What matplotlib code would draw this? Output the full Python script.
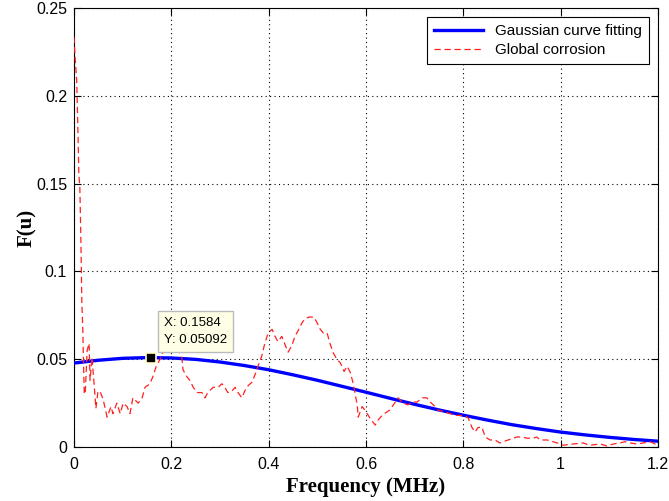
import numpy as np
import matplotlib
matplotlib.use("Agg")
import matplotlib.pyplot as plt

# Gaussian curve fitting
fit_x = [0.00, 0.05, 0.10, 0.15, 0.20, 0.25, 0.30, 0.35, 0.40, 0.45, 0.50, 0.55,
         0.60, 0.65, 0.70, 0.75, 0.80, 0.85, 0.90, 0.95, 1.00, 1.05, 1.10, 1.15, 1.20]
fit_y = [0.0478, 0.0494, 0.0505, 0.0509, 0.0507, 0.0499, 0.0484, 0.0464, 0.0440,
         0.0411, 0.0380, 0.0346, 0.0312, 0.0277, 0.0243, 0.0211, 0.0181, 0.0153,
         0.0127, 0.0105, 0.0085, 0.0069, 0.0055, 0.0043, 0.0033]

# Global corrosion spectrum
cor_x = [0.000, 0.002, 0.0055, 0.008, 0.010, 0.012, 0.014, 0.016, 0.018, 0.021,
         0.023, 0.027, 0.031, 0.033, 0.037, 0.041, 0.045, 0.049, 0.053, 0.060,
         0.068, 0.076, 0.080, 0.088, 0.095, 0.101, 0.109, 0.115, 0.121, 0.132,
         0.140, 0.146, 0.156, 0.162, 0.169, 0.177, 0.183, 0.193, 0.203, 0.212,
         0.222, 0.224, 0.232, 0.238, 0.245, 0.253, 0.263, 0.269, 0.275, 0.286,
         0.296, 0.304, 0.310, 0.316, 0.325, 0.331, 0.337, 0.345, 0.351, 0.358,
         0.366, 0.376, 0.378, 0.386, 0.392, 0.399, 0.407, 0.413, 0.419, 0.427,
         0.434, 0.440, 0.448, 0.454, 0.460, 0.469, 0.475, 0.483, 0.493, 0.499,
         0.506, 0.512, 0.520, 0.526, 0.532, 0.540, 0.547, 0.555, 0.561, 0.567,
         0.573, 0.577, 0.582, 0.584, 0.592, 0.598, 0.608, 0.619, 0.625, 0.633,
         0.643, 0.649, 0.660, 0.666, 0.676, 0.686, 0.695, 0.705, 0.715, 0.725,
         0.732, 0.742, 0.748, 0.762, 0.773, 0.783, 0.793, 0.803, 0.810, 0.818,
         0.824, 0.830, 0.838, 0.845, 0.855, 0.865, 0.875, 0.882, 0.892, 0.910,
         0.921, 0.931, 0.943, 0.951, 0.958, 0.972, 0.993, 1.005, 1.025, 1.046,
         1.060, 1.081, 1.095, 1.108, 1.122, 1.132, 1.143, 1.157, 1.169, 1.184,
         1.194, 1.200]
cor_y = [0.2335, 0.223, 0.209, 0.181, 0.155, 0.148, 0.120, 0.084, 0.067, 0.031,
         0.030, 0.055, 0.059, 0.038, 0.051, 0.037, 0.022, 0.031, 0.032, 0.027,
         0.017, 0.023, 0.019, 0.025, 0.019, 0.025, 0.023, 0.019, 0.028, 0.025,
         0.028, 0.034, 0.036, 0.040, 0.046, 0.050, 0.054, 0.060, 0.062, 0.058,
         0.050, 0.044, 0.040, 0.038, 0.034, 0.031, 0.031, 0.028, 0.031, 0.034,
         0.034, 0.036, 0.034, 0.031, 0.032, 0.034, 0.031, 0.028, 0.032, 0.035,
         0.037, 0.044, 0.046, 0.052, 0.059, 0.065, 0.067, 0.063, 0.060, 0.063,
         0.058, 0.054, 0.058, 0.063, 0.066, 0.071, 0.073, 0.074, 0.074, 0.071,
         0.067, 0.065, 0.065, 0.059, 0.054, 0.050, 0.048, 0.043, 0.046, 0.043,
         0.037, 0.031, 0.024, 0.017, 0.023, 0.021, 0.0165, 0.0125, 0.0154, 0.018,
         0.020, 0.021, 0.0256, 0.028, 0.025, 0.024, 0.0256, 0.0256, 0.028, 0.028,
         0.0256, 0.023, 0.021, 0.020, 0.019, 0.018, 0.018, 0.018, 0.0165, 0.011,
         0.0085, 0.011, 0.0114, 0.0057, 0.004, 0.004, 0.0023, 0.003, 0.004, 0.0057,
         0.0057, 0.005, 0.005, 0.0057, 0.004, 0.004, 0.0023, 0.001, 0.0017, 0.0023,
         0.001, 0.0017, 0.0006, 0.0017, 0.0023, 0.003, 0.0023, 0.0017, 0.0023, 0.003,
         0.0017, 0.0023]

tip_x = 0.1584
tip_y = 0.05092

xticks = [0, 0.2, 0.4, 0.6, 0.8, 1, 1.2]
xtick_labels = ["0", "0.2", "0.4", "0.6", "0.8", "1", "1.2"]
yticks = [0, 0.05, 0.1, 0.15, 0.2, 0.25]
ytick_labels = ["0", "0.05", "0.1", "0.15", "0.2", "0.25"]

plt.rcParams['font.family'] = ['Liberation Sans', 'DejaVu Sans']

fig = plt.figure(figsize=(6.69, 5.01), dpi=100)
ax = fig.add_axes([74/669, 54/501, 584/669, 439/501])

ax.plot(fit_x, fit_y, color='#0000FF', lw=2.4, label='Gaussian curve fitting', zorder=3)
ax.plot(cor_x, cor_y, color='#FF2020', lw=0.9, dashes=(5, 3), label='Global corrosion', zorder=4)

ax.plot([tip_x], [tip_y], marker='s', ms=7, mfc='black', mec='#FFFFCC', mew=1.2, zorder=6)
ax.annotate(f"X: {tip_x}\nY: {tip_y}", xy=(tip_x, tip_y), xytext=(9, 8),
            textcoords='offset points', fontsize=9.5, ha='left', va='bottom',
            linespacing=1.65,
            bbox=dict(boxstyle='square,pad=0.45', fc='#FFFFE6', ec='#BBBBBB', lw=1),
            zorder=7)

ax.set_xlim(0, 1.2)
ax.set_ylim(0, 0.25)
ax.set_xticks(xticks)
ax.set_xticklabels(xtick_labels)
ax.set_yticks(yticks)
ax.set_yticklabels(ytick_labels)
ax.tick_params(direction='in', top=True, right=True, labelsize=11.5, length=5)
ax.tick_params(axis='x', pad=7)
ax.tick_params(axis='y', pad=5)
ax.grid(True, linestyle=(0, (1, 3)), color='black', lw=0.8)
for s in ax.spines.values():
    s.set_linewidth(0.8)

ax.set_xlabel('Frequency (MHz)', family='Liberation Serif', fontsize=15, fontweight='bold', labelpad=4)
ax.set_ylabel('F(u)', family='Liberation Serif', fontsize=15, fontweight='bold', labelpad=-1)

leg = ax.legend(loc='upper right', fontsize=11, frameon=True, fancybox=False,
                edgecolor='black', framealpha=1, handlelength=3.2,
                borderaxespad=0.6, labelspacing=0.35, borderpad=0.45)
leg.get_frame().set_linewidth(0.8)

fig.savefig('out.png', dpi=100)
